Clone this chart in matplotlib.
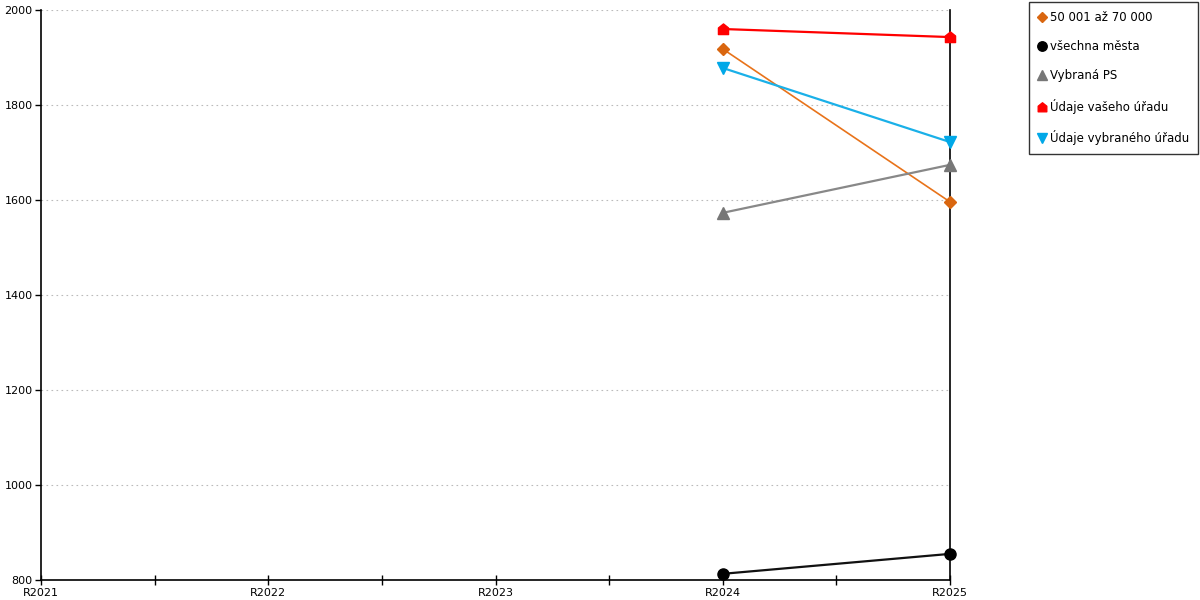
import numpy as np
import matplotlib
matplotlib.use("Agg")
import matplotlib.pyplot as plt
from matplotlib.path import Path
from matplotlib.ticker import MultipleLocator

categories = ["R2021", "R2022", "R2023", "R2024", "R2025"]

# values only exist for the last two years
orange_vals = [None, None, None, 1918, 1596]
black_vals = [None, None, None, 813, 855]
gray_vals = [None, None, None, 1573, 1674]
red_vals = [None, None, None, 1960, 1943]
blue_vals = [None, None, None, 1878, 1722]

labels = ["50 001 až 70 000", "všechna města", "Vybraná PS",
          "Údaje vašeho úřadu", "Údaje vybraného úřadu"]

# house-shaped marker (square with a roof)
house = Path([(-1, -1), (1, -1), (1, 0.3), (0, 1.1), (-1, 0.3), (-1, -1)],
             [Path.MOVETO, Path.LINETO, Path.LINETO, Path.LINETO, Path.LINETO, Path.CLOSEPOLY])

series = [
    (orange_vals, "#e8731a", "D", 6, 1.2, "#d9660f"),
    (black_vals, "#111111", "o", 8, 1.6, "#000000"),
    (gray_vals, "#888888", "^", 8, 1.6, "#777777"),
    (red_vals, "#ff0000", house, 8, 1.6, "#ff0000"),
    (blue_vals, "#1ab0e8", "v", 8, 1.6, "#00a8e8"),
]

plt.rcParams["font.family"] = "DejaVu Sans"
fig = plt.figure(figsize=(12, 6), dpi=100)
ax = fig.add_axes([41 / 1200, 20 / 600, (950 - 41) / 1200, 570 / 600])

x = np.arange(len(categories))
for (vals, lc, mk, ms, lw, mc), lab in zip(series, labels):
    xs = [i for i, v in zip(x, vals) if v is not None]
    ys = [v for v in vals if v is not None]
    ax.plot(xs, ys, color=lc, lw=lw, marker=mk, markersize=ms,
            markerfacecolor=mc, markeredgecolor=mc, label=lab, clip_on=False, zorder=5)

ax.set_xlim(0, len(categories) - 1)
ax.set_ylim(800, 2000)
ax.set_xticks(x)
ax.set_xticklabels(categories, fontsize=8)
ax.xaxis.set_minor_locator(MultipleLocator(0.5))
ax.tick_params(axis="x", which="both", direction="inout", length=7, width=1, pad=2)
ax.yaxis.set_major_locator(MultipleLocator(200))
ax.tick_params(axis="y", direction="out", length=4, width=1, labelsize=8, pad=2)
ax.grid(axis="y", color="#bbbbbb", ls=(0, (1.5, 3)), lw=0.8)
ax.spines["top"].set_visible(False)
ax.spines["right"].set_visible(True)
for s in ax.spines.values():
    s.set_linewidth(1.2)

leg = fig.legend(loc="upper right", bbox_to_anchor=(1198 / 1200, 1 - 2 / 600),
                 frameon=True, fancybox=False, edgecolor="black", fontsize=8.5,
                 handlelength=0.7, handletextpad=0.3, labelspacing=1.38,
                 borderpad=0.75, borderaxespad=0, markerscale=0.85)
leg.get_frame().set_linewidth(1.0)
for h in leg.legend_handles:
    h.set_linestyle("none")

fig.savefig("out.png", dpi=100, facecolor="white")
